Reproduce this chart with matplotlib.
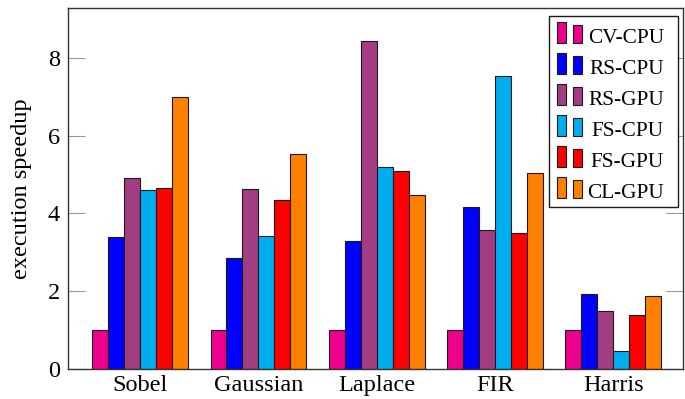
import matplotlib
matplotlib.use("Agg")
import matplotlib.pyplot as plt
from matplotlib.patches import Rectangle
import numpy as np

categories = ["Sobel", "Gaussian", "Laplace", "FIR", "Harris"]
series_names = ["CV-CPU", "RS-CPU", "RS-GPU", "FS-CPU", "FS-GPU", "CL-GPU"]
cv_cpu = [1.0, 1.0, 1.0, 1.0, 1.0]
rs_cpu = [3.39, 2.85, 3.29, 4.16, 1.93]
rs_gpu = [4.90, 4.63, 8.44, 3.57, 1.49]
fs_cpu = [4.61, 3.41, 5.18, 7.52, 0.47]
fs_gpu = [4.64, 4.34, 5.08, 3.50, 1.38]
cl_gpu = [6.99, 5.53, 4.48, 5.03, 1.88]
yticks = [0, 2, 4, 6, 8]
ylabel = "execution speedup"

series = [cv_cpu, rs_cpu, rs_gpu, fs_cpu, fs_gpu, cl_gpu]
colors = ["#EC008C", "#0000FF", "#A33D82", "#00AEEF", "#FF0000", "#FF8000"]

plt.rcParams['font.family'] = ['Liberation Serif', 'DejaVu Serif']

W, H = 685, 399
fig = plt.figure(figsize=(W / 100, H / 100), dpi=100)
ax = fig.add_axes([68 / W, 1 - 369 / H, 615 / W, 361 / H])

x = np.arange(len(categories))
bw = 0.135
for i, (vals, c) in enumerate(zip(series, colors)):
    ax.bar(x + (i - 2.5) * bw, vals, width=bw, color=c, edgecolor="#1a1a1a",
           linewidth=0.8, zorder=2)

ax.set_xlim(-0.61, 4.59)
ax.set_ylim(0, 9.28)
ax.set_xticks(x)
ax.set_xticklabels(categories, fontsize=17.5)
ax.set_yticks(yticks)
ax.set_yticklabels([str(t) for t in yticks], fontsize=17.5)
ax.tick_params(axis='x', length=0, pad=4)
ax.tick_params(axis='y', direction='in', length=12, width=0.8, color='#999999',
               right=True, pad=6)
for s in ax.spines.values():
    s.set_color('#333333')
    s.set_linewidth(1.0)
ax.set_ylabel(ylabel, fontsize=17.5)
ax.yaxis.set_label_coords(-0.059, 0.5)

# legend drawn in pixel coordinates of the figure
def P(px, py):
    return (px / W, 1 - py / H)

tf = fig.transFigure
x0, y0 = P(549, 207)
x1, y1 = P(678, 16)
fig.add_artist(Rectangle((x0, y0), x1 - x0, y1 - y0, transform=tf,
                         facecolor='white', edgecolor='#1a1a1a', lw=1.0, zorder=10))
for i, (name, c) in enumerate(zip(series_names, colors)):
    base = 43.3 + 31 * i
    bx, by = P(557, base)
    fig.add_artist(Rectangle((bx, by), 9 / W, 21.6 / H, transform=tf,
                             facecolor=c, edgecolor='#1a1a1a', lw=0.8, zorder=11))
    bx, by = P(573, base)
    fig.add_artist(Rectangle((bx, by), 8.5 / W, 18 / H, transform=tf,
                             facecolor=c, edgecolor='#1a1a1a', lw=0.8, zorder=11))
    tx, ty = P(664, base)
    fig.text(tx, ty, name, ha='right', va='baseline', fontsize=15.3, zorder=12)

fig.savefig("out.png", dpi=100)
